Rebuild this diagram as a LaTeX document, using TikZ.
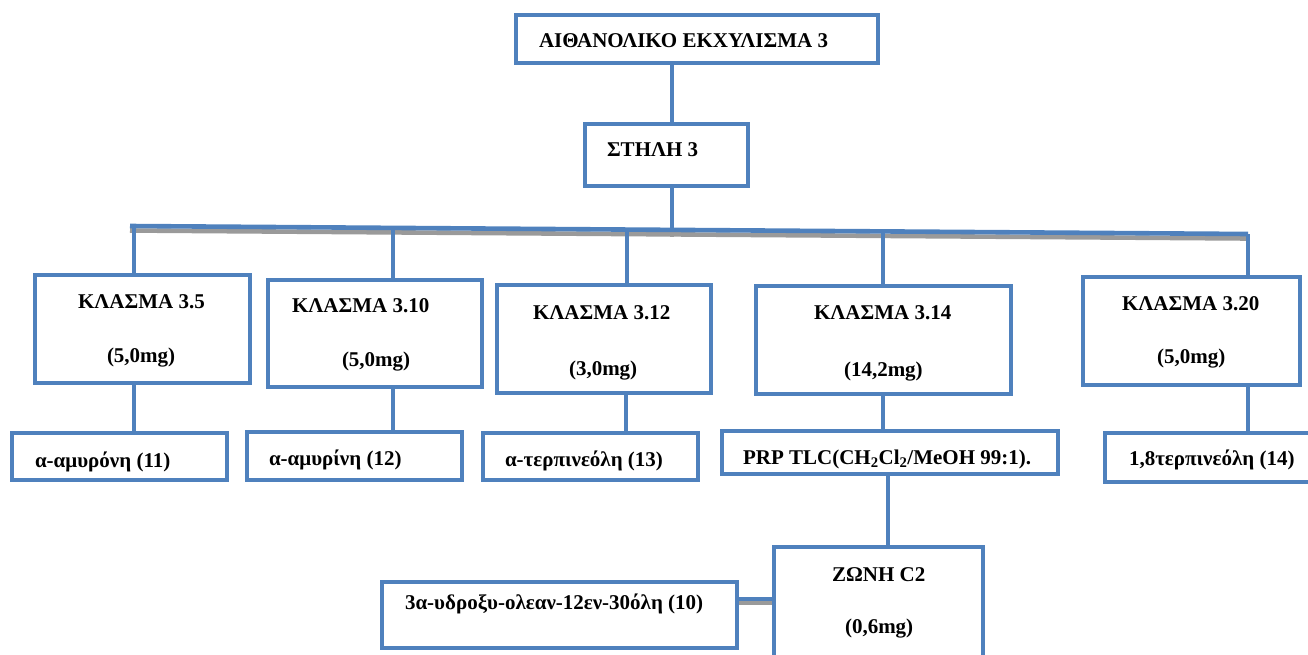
\documentclass[tikz,border=0pt]{standalone}
\usepackage{fontspec}
\setmainfont{Liberation Serif}
\usetikzlibrary{calc,backgrounds}
\definecolor{boxblue}{HTML}{4F81BD}
\definecolor{shade}{HTML}{9A9A9A}
\begin{document}
\begin{tikzpicture}[x=1pt,y=-1pt,
  box/.style={draw=boxblue,line width=4.6pt,rectangle,inner sep=0pt,outer sep=0pt},
  conn/.style={draw=boxblue,line width=4.6pt},
  shadow/.style={draw=shade,line width=4.6pt},
  lbl/.style={inner sep=0pt,outer sep=0pt,anchor=base west,font=\fontsize{21}{25}\selectfont\bfseries}]
\useasboundingbox (0,0) rectangle (1308,654);

% boxes
\node[box,minimum width=362,minimum height=48] (top) at (697,39) {};
\node[box,minimum width=163,minimum height=62] (col) at (666.5,155) {};
\node[box,minimum width=215,minimum height=108] (k35) at (142.5,329) {};
\node[box,minimum width=214,minimum height=107] (k310) at (375,333.5) {};
\node[box,minimum width=214,minimum height=108] (k312) at (604,339) {};
\node[box,minimum width=255,minimum height=108] (k314) at (883.5,340) {};
\node[box,minimum width=217,minimum height=108] (k320) at (1191.5,331) {};
\node[box,minimum width=215,minimum height=47] (p11) at (119.5,456.5) {};
\node[box,minimum width=215,minimum height=48] (p12) at (354.5,456) {};
\node[box,minimum width=215,minimum height=47] (p13) at (590.5,456.5) {};
\node[box,minimum width=336,minimum height=43] (prp) at (890,452.5) {};
\node[box,minimum width=215,minimum height=49] (p14) at (1212.5,457.5) {};
\node[box,minimum width=209,minimum height=153] (zone) at (878.5,623.5) {};
\node[box,minimum width=355,minimum height=66] (p10) at (559.5,615) {};

% labels
\node[lbl] (ttop) at (539,47) {ΑΙΘΑΝΟΛΙΚΟ ΕΚΧΥΛΙΣΜΑ 3};
\node[lbl] (tcol) at (607,156) {ΣΤΗΛΗ 3};
\node[lbl] (tk35) at (78,308) {ΚΛΑΣΜΑ 3.5};
\node[lbl] (mk35) at (107,362) {(5,0mg)};
\node[lbl] (tk310) at (292,312) {ΚΛΑΣΜΑ 3.10};
\node[lbl] (mk310) at (342,366) {(5,0mg)};
\node[lbl] (tk312) at (533,319) {ΚΛΑΣΜΑ 3.12};
\node[lbl] (mk312) at (569,375) {(3,0mg)};
\node[lbl] (tk314) at (814,319) {ΚΛΑΣΜΑ 3.14};
\node[lbl] (mk314) at (844,376) {(14,2mg)};
\node[lbl] (tk320) at (1122,310) {ΚΛΑΣΜΑ 3.20};
\node[lbl] (mk320) at (1157,363) {(5,0mg)};
\node[lbl] (tp11) at (35,467) {α-αμυρόνη (11)};
\node[lbl] (tp12) at (269,465) {α-αμυρίνη (12)};
\node[lbl] (tp13) at (505,466) {α-τερπινεόλη (13)};
\node[lbl] (tprp) at (743,464) {PRP TLC(CH\textsubscript{2}Cl\textsubscript{2}/MeOH 99:1).};
\node[lbl] (tp14) at (1129,465) {1,8τερπινεόλη (14)};
\node[lbl] (tzone) at (832,581) {ΖΩΝΗ C2};
\node[lbl] (mzone) at (845,633) {(0,6mg)};
\node[lbl] (tp10) at (405,609) {3α-υδροξυ-ολεαν-12εν-30όλη (10)};

% bus points
\coordinate (busL) at (130,226);
\coordinate (busR) at (1248,234);
\coordinate (d0) at ($(busL)!0.4848!(busR)$);
\coordinate (d1) at ($(busL)!0.0036!(busR)$);
\coordinate (d2) at ($(busL)!0.2352!(busR)$);
\coordinate (d3) at ($(busL)!0.4445!(busR)$);
\coordinate (d4) at ($(busL)!0.6735!(busR)$);
\coordinate (d5) at (busR);

\begin{scope}[on background layer]
  % bus with its grey shadow
  \draw[shadow] ($(busL)+(0,4.5)$) -- ($(busR)+(0,4.5)$);
  \draw[shadow] ($(d0)+(0,3)$) -- ($(d0)+(0,7)$);
  \draw[conn] (busL) -- (busR);
  % trunk
  \draw[conn] (top.south -| d0) -- (col.north -| d0);
  \draw[conn] (col.south -| d0) -- (d0);
  % drops to the fractions
  \draw[conn] (d1) -- (d1 |- k35.north);
  \draw[conn] (d2) -- (d2 |- k310.north);
  \draw[conn] (d3) -- (d3 |- k312.north);
  \draw[conn] (d4) -- (d4 |- k314.north);
  \draw[conn] (d5) -- (d5 |- k320.north);
  % fractions to products
  \draw[conn] (k35.south -| d1) -- (p11.north -| d1);
  \draw[conn] (k310.south -| d2) -- (p12.north -| d2);
  \draw[conn] ($(k312.south -| d3)+(-1,0)$) coordinate (s3) -- (s3 |- p13.north);
  \draw[conn] (k314.south -| d4) -- (prp.north -| d4);
  \draw[conn] (k320.south -| d5) -- (p14.north -| d5);
  % TLC to zone
  \draw[conn] ($(prp.south)+(-2,0)$) coordinate (pz) -- (pz |- zone.north);
  % zone to compound 10
  \draw[shadow,line width=4pt] ($(p10.east)+(0,-12)$) coordinate (zc) -- (zc -| zone.west);
  \draw[conn,line width=4pt] ($(p10.east)+(0,-16)$) coordinate (zb) -- (zb -| zone.west);
\end{scope}
\end{tikzpicture}
\end{document}
